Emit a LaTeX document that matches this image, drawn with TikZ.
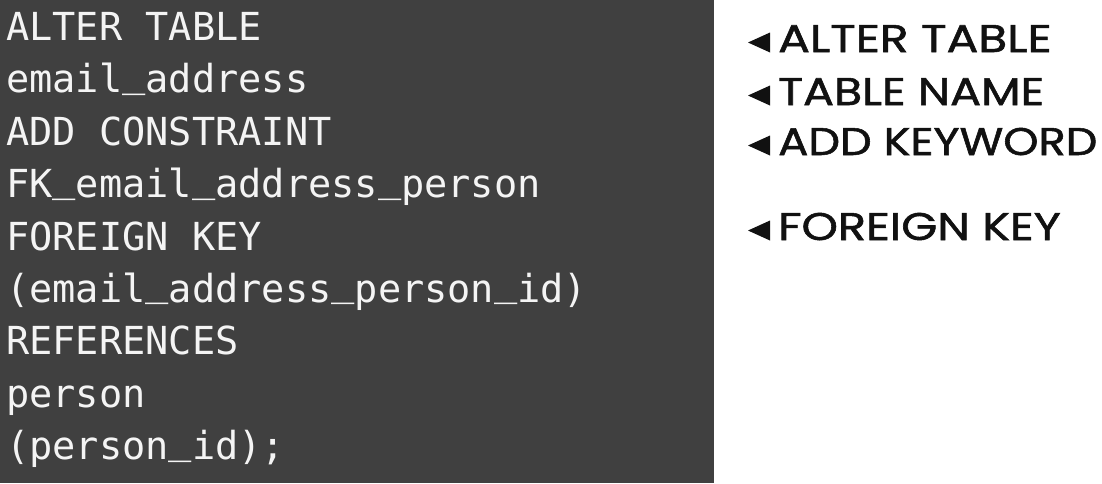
\documentclass[tikz,border=0pt]{standalone}
\usepackage{fontspec}
\setmonofont{DejaVu Sans Mono}
\newfontfamily\labelfont{Poppins}[FakeBold=1.3]
\newcommand\us{\raisebox{0.17em}{\_}}
\definecolor{panel}{HTML}{404040}
\definecolor{codetext}{HTML}{F4F4F4}
\definecolor{labeltext}{HTML}{111111}
\begin{document}
\begin{tikzpicture}[x=1pt,y=-1pt,
  codeline/.style={anchor=base west, inner sep=0pt, text=codetext,
    font=\fontsize{38.6}{40}\selectfont\ttfamily},
  annot/.style={anchor=base west, inner sep=0pt, text=labeltext,
    font=\fontsize{38.6}{40}\selectfont\labelfont},
  marker/.style={fill=labeltext}]
\useasboundingbox (0,0) rectangle (1102,483);
\fill[white] (0,0) rectangle (1102,483);
\fill[panel] (0,0) rectangle (714,483);
% code lines
\node[codeline] (c1) at (6,40.5) {ALTER TABLE};
\node[codeline] (c2) at (6,92.9) {email\us address};
\node[codeline] (c3) at (6,145.3) {ADD CONSTRAINT};
\node[codeline] (c4) at (6,197.7) {FK\us email\us address\us person};
\node[codeline] (c5) at (6,250.1) {FOREIGN KEY};
\node[codeline] (c6) at (6,302.5) {(email\us address\us person\us id)};
\node[codeline] (c7) at (6,354.9) {REFERENCES};
\node[codeline] (c8) at (6,407.3) {person};
\node[codeline] (c9) at (6,459.7) {(person\us id);};
% annotations
\foreach \nm/\yb/\sx/\txt in {l1/52/1.22/ALTER TABLE, l2/105/1.19/TABLE NAME, l3/155/1.16/ADD KEYWORD, l4/240/1.2/FOREIGN KEY}{
  \fill[marker] (748,\yb-9.5) -- (770,\yb-19.5) -- (770,\yb+0.5) -- cycle;
  \node[annot] (\nm) at (778,\yb) {\scalebox{\sx}[1]{\txt}};
}
\end{tikzpicture}
\end{document}
